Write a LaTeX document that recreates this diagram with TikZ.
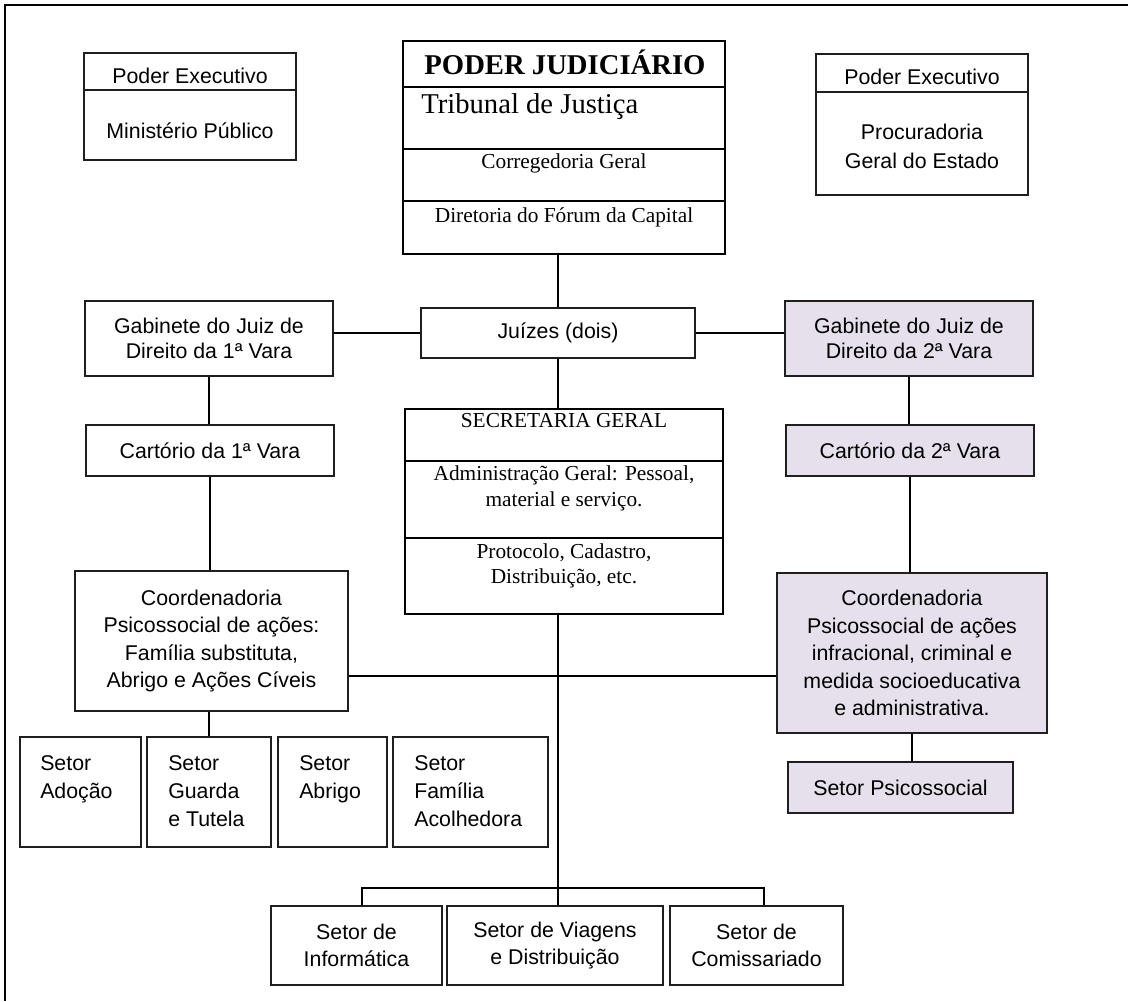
\documentclass[tikz,border=0pt]{standalone}
\usepackage{fontspec}
\setmainfont{Liberation Serif}
\setsansfont{Liberation Sans}
\usetikzlibrary{calc}
\definecolor{lavfill}{RGB}{229,224,236}
\newcommand\ssf{\sffamily\fontsize{16}{20.6}\selectfont}
\newcommand\ssfg{\sffamily\fontsize{16}{18.75}\selectfont}
\newcommand\rmf{\rmfamily\fontsize{16}{19.5}\selectfont}
\newcommand\rmbig{\rmfamily\fontsize{21.5}{24}\selectfont}
\begin{document}
\begin{tikzpicture}[x=0.75pt,y=-0.75pt,
  sz/.style 2 args={minimum width=#1*0.75pt,minimum height=#2*0.75pt},
  bx/.style={draw=black!88, line width=0.9pt, inner sep=0pt, align=center, font=\ssf},
  tbx/.style={draw=black, line width=1.9pt, inner sep=0pt},
  thin/.style={draw=black!88, line width=0.9pt},
  thick/.style={draw=black, line width=1.9pt},
  lav/.style={fill=lavfill},
  conn/.style={draw=black, line width=1.4pt},
  txt/.style={inner sep=0pt, font=\ssf, anchor=base},
  rtxt/.style={inner sep=0pt, font=\rmf, anchor=base},
  ltxt/.style={inner sep=0pt, font=\ssf, anchor=base west},
]
\useasboundingbox (0,0) rectangle (1128,1001);
% page frame (cropped)
\draw[line width=1.6pt] (5,1001) -- (5,5) -- (1128,5);

% Poder Executivo (left)
\node[bx, sz={212}{107}] (pe1) at (190,106.5) {};
\draw[thin] (pe1.west |- 0,90) -- (pe1.east |- 0,90);
\node[txt] (pe1a) at (190,83) {Poder Executivo};
\node[txt] (pe1b) at (190,138) {Ministério Público};

% Poder Executivo (right)
\node[bx, sz={212}{141}] (pe2) at (922,124.5) {};
\draw[thin] (pe2.west |- 0,92) -- (pe2.east |- 0,92);
\node[txt] (pe2a) at (922,84) {Poder Executivo};
\node[txt] (pe2b) at (922,139) {Procuradoria};
\node[txt] (pe2c) at (922,168) {Geral do Estado};

% Poder Judiciario
\node[tbx, sz={322}{213}] (jud) at (564,147.5) {};
\draw[thick] (jud.west |- 0,87) -- (jud.east |- 0,87);
\draw[thick] (jud.west |- 0,149) -- (jud.east |- 0,149);
\draw[thick] (jud.west |- 0,201) -- (jud.east |- 0,201);
\node[inner sep=0pt, anchor=base, font=\rmbig\bfseries] (jud1) at (565,74) {PODER JUDICIÁRIO};
\node[inner sep=0pt, anchor=base west, font=\rmbig] (jud2) at (421,113) {Tribunal de Justiça};
\node[rtxt] (jud3) at (564,168) {Corregedoria Geral};
\node[rtxt] (jud4) at (564,222) {Diretoria do Fórum da Capital};

% Juizes
\node[bx, sz={274}{50}] (juizes) at (558,333) {Juízes (dois)};

% Gabinetes and cartorios
\node[bx, sz={248}{75}, font=\ssfg] (gab1) at (209,338.5) {Gabinete do Juiz de\\Direito da 1ª Vara};
\node[bx, lav, sz={248}{75}, font=\ssfg] (gab2) at (909,338.5) {Gabinete do Juiz de\\Direito da 2ª Vara};
\node[bx, sz={248}{51}] (cart1) at (210,450.5) {Cartório da 1ª Vara};
\node[bx, lav, sz={248}{51}] (cart2) at (910,450.5) {Cartório da 2ª Vara};

% Secretaria Geral
\node[tbx, sz={318}{205}] (sec) at (564,511.5) {};
\draw[thick] (sec.west |- 0,461) -- (sec.east |- 0,461);
\draw[thick] (sec.west |- 0,538) -- (sec.east |- 0,538);
\node[rtxt] (sec1) at (564,427) {SECRETARIA GERAL};
\node[rtxt] (sec2) at (564,480) {Administração Geral: Pessoal,};
\node[rtxt] (sec3) at (564,506) {material e serviço.};
\node[rtxt] (sec4) at (564,558) {Protocolo, Cadastro,};
\node[rtxt] (sec5) at (564,583) {Distribuição, etc.};

% Coordenadorias
\node[bx, sz={273}{140}] (coord1) at (211.5,641) {Coordenadoria\\Psicossocial de ações:\\Família substituta,\\Abrigo e Ações Cíveis};
\node[bx, lav, sz={270}{160}] (coord2) at (912,653) {Coordenadoria\\Psicossocial de ações\\infracional, criminal e\\medida socioeducativa\\e administrativa.};

% Setores (left)
\node[bx, sz={121}{110}] (adocao) at (80.5,792) {};
\node[bx, sz={124}{110}] (guarda) at (209,792) {};
\node[bx, sz={109}{110}] (abrigo) at (332.5,792) {};
\node[bx, sz={155}{110}] (familia) at (470.5,792) {};
\node[ltxt] at (40,770) {Setor};
\node[ltxt] at (40,798) {Adoção};
\node[ltxt] at (168,770) {Setor};
\node[ltxt] at (168,798) {Guarda};
\node[ltxt] at (168,826) {e Tutela};
\node[ltxt] at (299,770) {Setor};
\node[ltxt] at (299,798) {Abrigo};
\node[ltxt] at (414,770) {Setor};
\node[ltxt] at (414,798) {Família};
\node[ltxt] at (414,826) {Acolhedora};

% Setor psicossocial
\node[bx, lav, sz={225}{51}] (psico) at (900.5,787.5) {Setor Psicossocial};

% Setores (bottom)
\node[bx, sz={171}{79}] (info) at (356.5,945.5) {Setor de\\Informática};
\node[bx, sz={216}{79}] (viag) at (555,945.5) {Setor de Viagens\\e Distribuição};
\node[bx, sz={173}{79}] (comis) at (756.5,945.5) {Setor de\\Comissariado};

% Connectors
\draw[conn] (juizes.north) -- (juizes.north |- jud.south);
\draw[conn] (gab1.east |- juizes.west) -- (juizes.west);
\draw[conn] (juizes.east) -- (juizes.east -| gab2.west);
\draw[conn] (gab1.south) -- (gab1.south |- cart1.north);
\draw[conn] (cart1.south) -- (cart1.south |- coord1.north);
\draw[conn] (gab2.south) -- (gab2.south |- cart2.north);
\draw[conn] (cart2.south) -- (cart2.south |- coord2.north);
\draw[conn] (juizes.south) -- (juizes.south |- sec.north);
\draw[conn] (coord1.east |- 0,676) -- (coord2.west |- 0,676);
\draw[conn] (guarda.north) -- (guarda.north |- coord1.south);
\draw[conn] (coord2.south) -- (coord2.south |- psico.north);
\coordinate (br) at (558,888);
\coordinate (brl) at (362,888);
\coordinate (brr) at (764,888);
\draw[conn] (sec.south -| br) -- (br |- viag.north);
\draw[conn] (brl |- info.north) -- (brl) -- (brr) -- (brr |- comis.north);
\end{tikzpicture}
\end{document}
